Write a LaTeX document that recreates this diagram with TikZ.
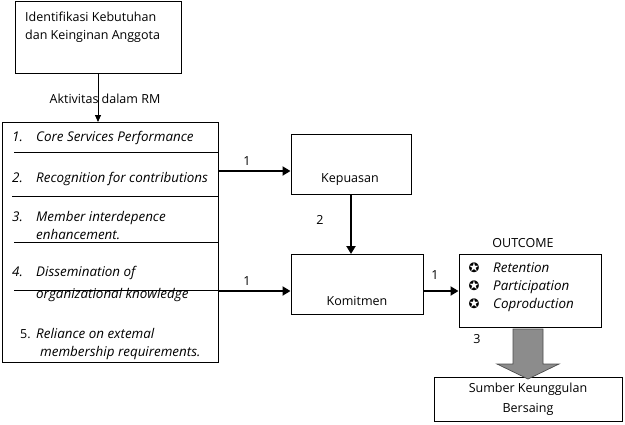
\documentclass[tikz,border=0pt]{standalone}
\usepackage{fontspec}
\setmainfont{Open Sans}
\newfontfamily\symfont{DejaVu Sans}
\usetikzlibrary{arrows.meta,calc}
\definecolor{arrowfill}{gray}{0.55}
\definecolor{arrowline}{gray}{0.3}
\begin{document}
\begin{tikzpicture}[x=1pt,y=-1pt,
  box/.style={draw,line width=0.8pt,inner sep=0,anchor=north west},
  txt/.style={anchor=base west,inner sep=0,font=\fontsize{12.5}{14}\selectfont},
  ctxt/.style={anchor=base,inner sep=0,font=\fontsize{12.5}{14}\selectfont},
  itx/.style={anchor=base west,inner sep=0,font=\fontsize{13.4}{14}\selectfont\itshape},
  sep/.style={line width=0.8pt},
  boldarrow/.style={line width=2.6pt,-{Triangle[length=8pt,width=9pt]}},
  thinarrow/.style={line width=0.8pt,-{Triangle[length=7pt,width=6pt]}}]
\useasboundingbox (0,0) rectangle (625,424);

% top box
\node[box,minimum width=166pt,minimum height=72pt] (top) at (15,0.5) {};
\node[txt] (t1) at (25,21) {Identifikasi Kebutuhan};
\node[txt] (t2) at (25,39) {dan Keinginan Anggota};

% left box
\node[box,minimum width=216pt,minimum height=240pt] (L) at (2,122) {};
\draw[thinarrow] (top.south -| 98,0) -- (L.north -| 98,0);
\node[ctxt] (aktiv) at (105,103) {Aktivitas dalam RM};

\coordinate (s1) at (14,152);
\coordinate (s2) at (12,196);
\coordinate (s3) at (14,242);
\coordinate (s4) at (14,290);
\draw[sep] (s1) -- (L.east |- s1);
\draw[sep] (s2) -- (L.east |- s2);
\draw[sep] (s3) -- (L.east |- s3);
\draw[sep] (s4) -- (L.east |- s4);

\node[itx] (n1) at (12,141) {1.};
\node[itx] (i1) at (36,141) {Core Services Performance};
\node[itx] (n2) at (12,182) {2.};
\node[itx] (i2) at (36,182) {Recognition for contributions};
\node[itx] (n3) at (12,221) {3.};
\node[itx] (i3) at (36,221) {Member interdepence};
\node[itx] (i3b) at (36,239) {enhancement.};
\node[itx] (n4) at (12,276) {4.};
\node[itx] (i4) at (36,276) {Dissemination of};
\node[itx] (i4b) at (36,298) {organizational knowledge};
\node[txt] (n5) at (20,338) {5.};
\node[itx] (i5) at (36,338) {Reliance on extemal};
\node[itx] (i5b) at (40,356) {membership requirements.};

% middle boxes
\node[box,minimum width=120pt,minimum height=60pt] (K) at (290.5,134) {};
\node[ctxt] (kt) at (350,182) {Kepuasan};
\node[box,minimum width=132pt,minimum height=60pt] (M) at (290.5,254) {};
\node[ctxt] (mt) at (357,305) {Komitmen};

\coordinate (a1) at (0,171);
\coordinate (a2) at (0,291);
\draw[boldarrow] (L.east |- a1) -- (K.west |- a1);
\draw[boldarrow] (L.east |- a2) -- (M.west |- a2);
\node[ctxt] (l1) at (247,165) {1};
\node[ctxt] (l1b) at (247,285) {1};
\draw[boldarrow] (K.south -| 351,0) -- (M.north -| 351,0);
\node[ctxt] (l2) at (320,224) {2};

% outcome
\node[box,minimum width=142pt,minimum height=73pt] (O) at (458.5,254) {};
\node[ctxt] (ot) at (523,247) {OUTCOME};
\draw[boldarrow] (M.east |- a2) -- (O.west |- a2);
\node[ctxt] (l1c) at (435,279) {1};
\foreach \y/\t [count=\i] in {272/Retention,290/Participation,308/Coproduction}{
  \node[anchor=base,inner sep=0,font=\symfont\fontsize{13}{14}\selectfont] (st\i) at (474,\y) {✪};
  \node[itx] (ot\i) at (493,\y) {\t};
}

% sumber
\node[box,minimum width=188pt,minimum height=44pt] (S) at (433.5,377) {};
\node[ctxt] (s1t) at (528,392) {Sumber Keunggulan};
\node[ctxt] (s2t) at (528,412) {Bersaing};

% block arrow
\draw[fill=arrowfill,draw=arrowline,line width=0.7pt]
  (513,329) -- (543,329) -- (543,364) -- (559,364) -- (528,379) -- (497,364) -- (513,364) -- cycle;
\node[ctxt] (l3) at (477,343) {3};
\end{tikzpicture}
\end{document}
